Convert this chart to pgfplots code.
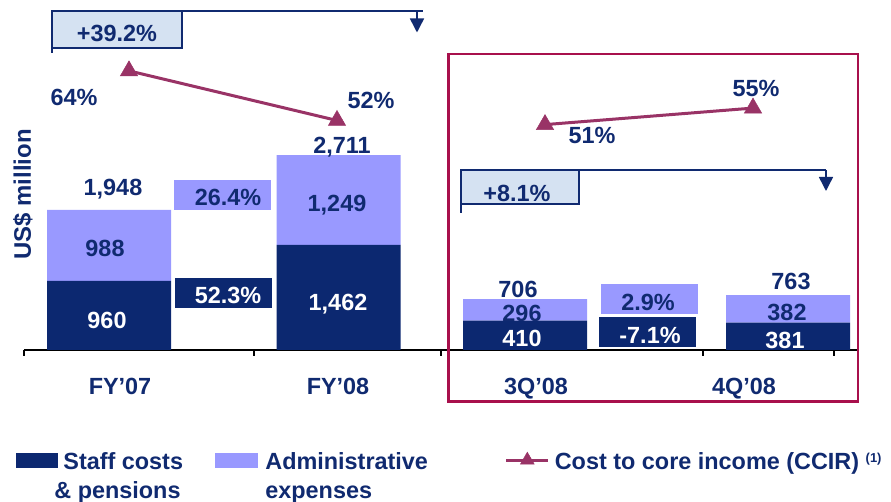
\documentclass[border=0pt]{standalone}
\usepackage{fontspec}
\setmainfont{Liberation Sans}
\usepackage{pgfplots}
\pgfplotsset{compat=1.18}
\usetikzlibrary{arrows.meta}
\definecolor{darkbar}{RGB}{12,40,112}
\definecolor{lightbar}{RGB}{153,153,255}
\definecolor{navy}{RGB}{16,42,112}
\definecolor{ccir}{RGB}{153,51,102}
\definecolor{framec}{RGB}{168,16,76}
\definecolor{boxfill}{RGB}{213,226,242}
\newcommand{\F}{\fontsize{23.5}{29}\selectfont\bfseries}
\pgfplotsset{base/.style={at={(24bp,152bp)}, anchor=south west, scale only axis,
  width=833bp, height=350bp, xmin=24, xmax=857, clip=false}}
\tikzset{lab/.style={font=\F, text=navy, inner sep=0pt, text height=16.8bp, text depth=0pt, anchor=center},
  wlab/.style={lab, text=white}}
\begin{document}
\begin{tikzpicture}
\useasboundingbox (0,0) rectangle (891bp,502bp);
% ---------- bars ----------
\begin{axis}[base, ymin=0, ymax=4868,
  ybar stacked, bar width=124,
  axis x line*=bottom, axis y line=none,
  x axis line style={black, line width=1.5bp, -},
  xtick={24,254,441,703,834}, xticklabel=\empty,
  tick align=outside, major tick length=6bp,
  x tick style={black, line width=1.3bp},
  extra x ticks={120,338,536,744},
  extra x tick labels={FY’07,FY’08,3Q’08,4Q’08},
  extra x tick style={major tick length=0pt,
    xticklabel style={font=\F, text=navy, inner sep=0pt, text height=16.8bp, text depth=0pt, anchor=center, yshift=-36bp}},
  ytick=\empty]
\addplot[fill=darkbar, draw=none] coordinates {(109,960) (338.5,1462) (525,410) (788,381)};
\addplot[fill=lightbar, draw=none] coordinates {(109,988) (338.5,1249) (525,296) (788,382)};
% y label
\node[lab, font=\fontsize{24}{29}\selectfont\bfseries, rotate=90] at (axis cs:22.5,2163) {US\$ million};
\end{axis}
% ---------- growth boxes and labels ----------
\begin{axis}[base, ymin=0, ymax=4868, hide axis, no markers]
\addplot[fill=lightbar, draw=none] coordinates {(174,1947) (271,1947) (271,2364) (174,2364)};
\addplot[fill=darkbar, draw=none] coordinates {(175,584) (272,584) (272,1001) (175,1001)};
\addplot[fill=lightbar, draw=none] coordinates {(601,501) (698,501) (698,918) (601,918)};
\addplot[fill=darkbar, draw=none] coordinates {(599,42) (696,42) (696,459) (599,459)};
\node[lab] at (axis cs:228,2128) {26.4\%};
\node[wlab] at (axis cs:228,765) {52.3\%};
\node[lab] at (axis cs:648,672) {2.9\%};
\node[wlab] at (axis cs:650,209) {-7.1\%};
% value labels
\node[lab] at (axis cs:113,2267) {1,948};
\node[lab] at (axis cs:105,1419) {988};
\node[wlab] at (axis cs:107,417) {960};
\node[lab] at (axis cs:342,2851) {2,711};
\node[lab] at (axis cs:337,2045) {1,249};
\node[wlab] at (axis cs:338,668) {1,462};
\node[lab] at (axis cs:518,848) {706};
\node[lab] at (axis cs:522,515) {296};
\node[wlab] at (axis cs:522,167) {410};
\node[lab] at (axis cs:791,960) {763};
\node[lab] at (axis cs:787,529) {382};
\node[wlab] at (axis cs:785,139) {381};
% CCIR labels
\node[lab] at (axis cs:74,3519) {64\%};
\node[lab] at (axis cs:371,3477) {52\%};
\node[lab] at (axis cs:592,2990) {51\%};
\node[lab] at (axis cs:756,3644) {55\%};
\end{axis}
% ---------- CCIR ----------
\begin{axis}[base, ymin=-3.53, ymax=81.15, hide axis,
  legend columns=3,
  legend style={at={(axis cs:16,-27.48)}, anchor=north west, draw=none, fill=none,
    inner sep=0pt, outer sep=0pt, font=\F, cells={anchor=base west},
    nodes={inner sep=0pt, text=navy},
    /tikz/column 1/.style={column sep=6bp},
    /tikz/column 2/.style={column sep=31.9bp},
    /tikz/column 3/.style={column sep=8bp},
    /tikz/column 4/.style={column sep=76.8bp},
    /tikz/column 5/.style={column sep=5bp}}]
\addlegendimage{legend image code/.code={\fill[darkbar] (0bp,2bp) rectangle (41bp,16bp);}}
\addlegendentry{\begin{tabular}[t]{@{}l@{}}Staff costs\\\hspace*{-9bp}\& pensions\end{tabular}}
\addlegendimage{legend image code/.code={\fill[lightbar] (0bp,2bp) rectangle (42bp,16bp);}}
\addlegendentry{\begin{tabular}[t]{@{}l@{}}Administrative\\expenses\end{tabular}}
\addplot[ccir, line width=3bp, mark=triangle*, mark size=10bp,
  mark options={solid, fill=ccir, line width=0.5bp},
  legend image code/.code={\draw[mark repeat=2, mark phase=2, mark size=8bp] plot coordinates {(0bp,9bp) (21bp,9bp) (42bp,9bp)};}]
  coordinates {(129,64) (337,52)};
\addlegendentry{Cost to core income (CCIR)\ \raisebox{7bp}{\fontsize{13}{13}\selectfont (1)}}
\addplot[ccir, line width=3bp, mark=triangle*, mark size=10bp,
  mark options={solid, fill=ccir, line width=0.5bp}, forget plot]
  coordinates {(545,51) (753,55)};
\end{axis}
% ---------- annotations ----------
\begin{scope}[x=1bp, y=-1bp, shift={(0bp,502bp)}]
\draw[framec, line width=2.8bp] (448.6,54) rectangle (858,401.3);
\draw[navy, line width=1.5bp] (52,53) -- (52,11) -- (423,11);
\draw[navy, line width=1.5bp, -{Triangle[width=14bp,length=14bp]}] (417,11) -- (417,32.5);
\draw[navy, line width=1.5bp, fill=boxfill] (52,11) rectangle (182,48);
\node[lab] at (117,33) {+39.2\%};
\draw[navy, line width=1.5bp] (461,213) -- (461,170) -- (826,170);
\draw[navy, line width=1.5bp, -{Triangle[width=14bp,length=14bp]}] (826,170) -- (826,191);
\draw[navy, line width=1.5bp, fill=boxfill] (461,170) rectangle (579,204);
\node[lab] at (517,193) {+8.1\%};
\end{scope}
\end{tikzpicture}
\end{document}
